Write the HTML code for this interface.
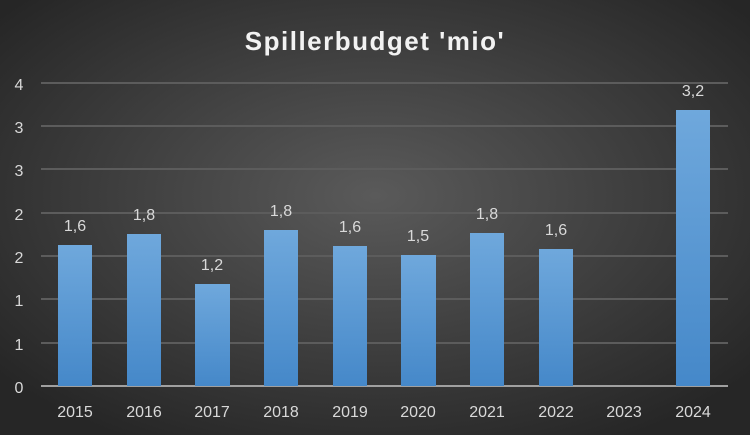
<!DOCTYPE html>
<html><head><style>
body{margin:0}
svg{display:block}
</style></head><body>
<svg width="750" height="435" xmlns="http://www.w3.org/2000/svg" font-family="Liberation Sans, sans-serif">
<defs>
<radialGradient id="bg" cx="50%" cy="45%" r="65%">
<stop offset="0" stop-color="#5a5a5a"/>
<stop offset="1" stop-color="#262626"/>
</radialGradient>
<linearGradient id="bar" x1="0" y1="0" x2="0" y2="1">
<stop offset="0" stop-color="#6fa8dc"/>
<stop offset="1" stop-color="#4588c9"/>
</linearGradient>
</defs>
<rect width="750" height="435" fill="url(#bg)"/>
<text x="375" y="50" text-anchor="middle" fill="#f2f2f2" font-size="26" font-weight="bold" letter-spacing="1.5">Spillerbudget 'mio'</text>
<g stroke="#5c5c5c" stroke-width="2">
<line x1="41" x2="728" y1="83" y2="83"/>
<line x1="41" x2="728" y1="126" y2="126"/>
<line x1="41" x2="728" y1="169" y2="169"/>
<line x1="41" x2="728" y1="213" y2="213"/>
<line x1="41" x2="728" y1="256" y2="256"/>
<line x1="41" x2="728" y1="299" y2="299"/>
<line x1="41" x2="728" y1="343" y2="343"/>
</g>
<line x1="41" x2="728" y1="386" y2="386" stroke="#a0a0a0" stroke-width="2"/>
<g fill="#d9d9d9" font-size="16" text-anchor="middle">
<text x="19" y="90">4</text><text x="19" y="133">3</text><text x="19" y="176">3</text>
<text x="19" y="220">2</text><text x="19" y="263">2</text><text x="19" y="306">1</text>
<text x="19" y="350">1</text><text x="19" y="393">0</text>
</g>
<g fill="url(#bar)">
<rect x="58" y="245" width="34" height="141"/>
<rect x="127" y="234" width="34" height="152"/>
<rect x="195" y="284" width="35" height="102"/>
<rect x="264" y="230" width="34" height="156"/>
<rect x="333" y="246" width="34" height="140"/>
<rect x="401" y="255" width="35" height="131"/>
<rect x="470" y="233" width="34" height="153"/>
<rect x="539" y="249" width="34" height="137"/>
<rect x="676" y="110" width="34" height="276"/>
</g>
<g fill="#d9d9d9" font-size="16" text-anchor="middle">
<text x="75" y="231">1,6</text>
<text x="144" y="220">1,8</text>
<text x="212" y="270">1,2</text>
<text x="281" y="216">1,8</text>
<text x="350" y="232">1,6</text>
<text x="418" y="241">1,5</text>
<text x="487" y="219">1,8</text>
<text x="556" y="235">1,6</text>
<text x="693" y="96">3,2</text>
</g>
<g fill="#d9d9d9" font-size="16" text-anchor="middle">
<text x="75" y="417">2015</text><text x="144" y="417">2016</text><text x="212" y="417">2017</text>
<text x="281" y="417">2018</text><text x="350" y="417">2019</text><text x="418" y="417">2020</text>
<text x="487" y="417">2021</text><text x="556" y="417">2022</text><text x="624" y="417">2023</text>
<text x="693" y="417">2024</text>
</g>
</svg>
</body></html>
